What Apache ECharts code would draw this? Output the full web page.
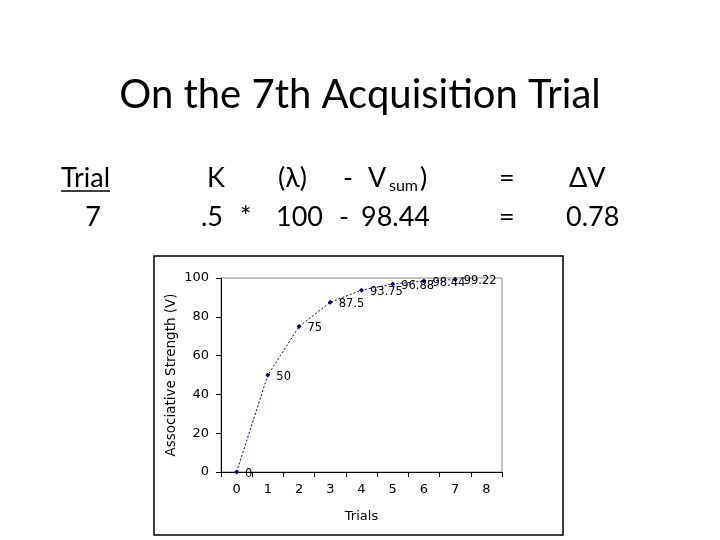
<!DOCTYPE html>
<html><head><meta charset="utf-8">
<script src="https://cdn.jsdelivr.net/npm/echarts@6/dist/echarts.min.js"></script>
<style>html,body{margin:0;padding:0;background:#fff}#c{width:720px;height:540px}</style>
</head><body><div id="c"></div>
<script>
var trials = ['0','1','2','3','4','5','6','7','8'];
var strength = [0, 50, 75, 87.5, 93.75, 96.88, 98.44, 99.22];
var yTicks = {min: 0, max: 100, interval: 20};
var titleText = 'On the 7th Acquisition Trial';

var chart = echarts.init(document.getElementById('c'));
var TF = 'Lato';
function t(x, y, s, size, align, extra) {
  var o = {type: 'text', x: x, y: y, style: {text: s, fontFamily: TF, fontSize: size || 27, fill: '#000', textAlign: align || 'left', textVerticalAlign: 'middle'}};
  if (extra) for (var k in extra) o.style[k] = extra[k];
  return o;
}
chart.setOption({
  animation: false,
  backgroundColor: '#fff',
  title: {text: titleText, left: 'center', top: 70, textStyle: {fontFamily: TF, fontWeight: 'normal', fontSize: 40, color: '#000'}},
  grid: {left: 221, top: 278, right: 218, bottom: 68, show: true, borderColor: '#888', borderWidth: 1, backgroundColor: 'transparent'},
  xAxis: {
    type: 'category', data: trials, boundaryGap: true,
    name: 'Trials', nameLocation: 'middle', nameGap: 38,
    nameTextStyle: {fontFamily: 'DejaVu Sans', fontSize: 13, color: '#000'},
    axisLine: {lineStyle: {color: '#000', width: 1}},
    axisTick: {show: true, length: 5, lineStyle: {color: '#000'}},
    axisLabel: {fontFamily: 'DejaVu Sans', fontSize: 13, color: '#000', margin: 11}
  },
  yAxis: {
    type: 'value', min: yTicks.min, max: yTicks.max, interval: yTicks.interval,
    name: 'Associative Strength (V)', nameLocation: 'middle', nameGap: 43,
    nameTextStyle: {fontFamily: 'DejaVu Sans', fontSize: 13.5, color: '#000'},
    axisLine: {show: true, lineStyle: {color: '#000', width: 1}},
    axisTick: {show: true, length: 5, lineStyle: {color: '#000'}},
    splitLine: {show: false},
    axisLabel: {fontFamily: 'DejaVu Sans', fontSize: 13, color: '#000', margin: 12}
  },
  series: [{
    type: 'line', data: strength,
    symbol: 'diamond', symbolSize: 5,
    itemStyle: {color: '#000066'},
    lineStyle: {color: '#000080', width: 1, type: [2, 2]},
    label: {show: true, position: 'right', distance: 6, fontFamily: 'DejaVu Sans', fontSize: 11.5, color: '#000', offset: [0, 2]}
  }],
  graphic: [
    {type: 'rect', shape: {x: 154, y: 256, width: 409, height: 279}, style: {fill: 'none', stroke: '#000', lineWidth: 1.5}, z: -1},
    t(61, 178, 'Trial'),
    {type: 'line', shape: {x1: 61, y1: 191, x2: 110, y2: 191}, style: {stroke: '#000', lineWidth: 1.5}},
    t(207, 178, 'K'),
    t(278, 178, '(λ)'),
    t(343, 178, '-'),
    t(368, 178, 'V'),
    t(389, 186, 'sum', 16),
    t(420, 178, ')'),
    t(499, 178, '='),
    t(569, 178, 'ΔV'),
    t(93, 217, '7', 27, 'center'),
    t(201, 217, '.5'),
    t(240, 217, '*'),
    t(276, 217, '100'),
    t(339, 217, '-'),
    t(361, 217, '98.44'),
    t(499, 217, '='),
    t(566, 217, '0.78')
  ]
});
</script></body></html>
